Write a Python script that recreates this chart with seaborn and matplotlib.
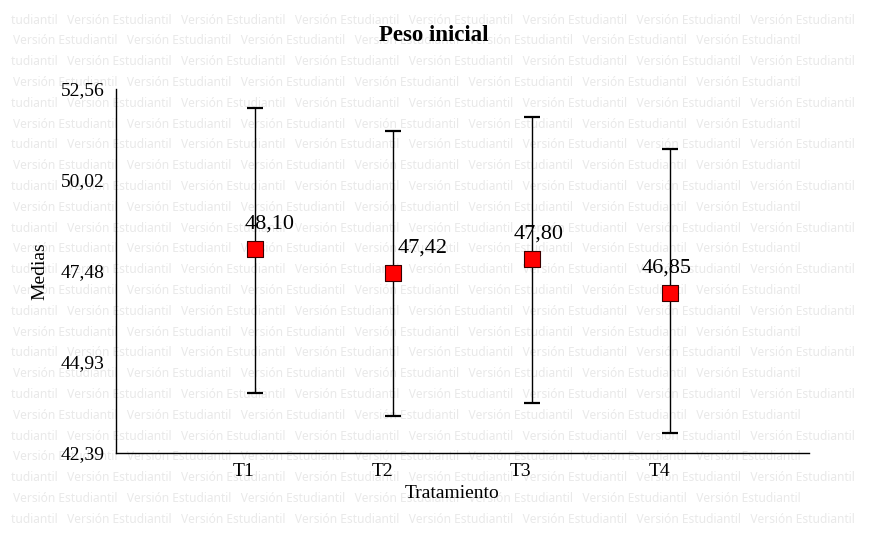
import matplotlib
matplotlib.use("Agg")
import matplotlib.pyplot as plt
import seaborn as sns
import pandas as pd
import numpy as np

# ---- data ----
categories = ["T1", "T2", "T3", "T4"]
means = [48.10, 47.42, 47.80, 46.85]
lower = [44.07, 43.42, 43.79, 42.95]
upper = [52.03, 51.39, 51.78, 50.88]
value_labels = ["48,10", "47,42", "47,80", "46,85"]
ytick_values = [42.39, 44.93, 47.48, 50.02, 52.56]
ytick_labels = ["42,39", "44,93", "47,48", "50,02", "52,56"]
watermark = "Versión Estudiantil"

# label placement (pixels)
label_dx = [15, 29, 7, -4]
label_dy = 25

df = pd.DataFrame({"Tratamiento": categories, "Medias": means})

sns.set_theme(style="white")
plt.rcParams["font.family"] = ["Liberation Serif", "DejaVu Serif"]

fig = plt.figure(figsize=(8.86, 5.34), dpi=100)

# background watermark layer
bg = fig.add_axes([0, 0, 1, 1], zorder=-5)
bg.set_axis_off()
bg.set_xlim(0, 886)
bg.set_ylim(534, 0)
for i in range(25):
    y = 20 + i * 20.8
    if i % 2 == 0:
        s = "tudiantil   " + "   ".join([watermark] * 7)
        x = 11
    else:
        s = "   ".join([watermark] * 7)
        x = 13
    bg.text(x, y, s, fontsize=8.6, color="#e9e9e9",
            family=["Noto Sans", "DejaVu Sans"], ha="left", va="center")

ax = fig.add_axes([116/886, 1-453/534, (809-116)/886, (453-89)/534], zorder=1)
ax.set_facecolor("none")

sns.scatterplot(data=df, x="Tratamiento", y="Medias", ax=ax, marker="s",
                s=135, color="#ff0000", edgecolor="#3a0000", linewidth=0.8, zorder=4)

xpos = np.arange(len(categories))
m = np.array(means)
yerr = np.vstack([m - np.array(lower), np.array(upper) - m])
ax.errorbar(xpos, m, yerr=yerr, fmt="none", ecolor="black", elinewidth=1.0,
            capsize=6, capthick=1.6, zorder=3)

for xi, yi, lab, dx in zip(xpos, means, value_labels, label_dx):
    ax.annotate(lab, (xi, yi), xytext=(dx, label_dy), textcoords="offset pixels",
                ha="center", va="center", fontsize=16, color="black", zorder=5)

ax.set_xlim(-1, 4)
ax.set_ylim(ytick_values[0], ytick_values[-1])
ax.set_xticks([-1] + list(xpos) + [4])
ax.set_xticklabels([""] + categories + [""], ha="right")
ax.set_yticks(ytick_values)
ax.set_yticklabels(ytick_labels)
ax.tick_params(axis="both", which="both", direction="out", length=3, width=0.8,
               color="black", labelsize=14, labelcolor="black")
ax.tick_params(axis="y", pad=5)
ax.tick_params(axis="x", pad=4)

for side in ["top", "right"]:
    ax.spines[side].set_visible(False)
for side in ["left", "bottom"]:
    ax.spines[side].set_color("black")
    ax.spines[side].set_linewidth(1.0)

ax.set_xlabel("Tratamiento", fontsize=14, color="black")
ax.set_ylabel("Medias", fontsize=14, color="black")
ax.xaxis.label.set_va("center")
ax.xaxis.set_label_coords((452-116)/693, (453-494)/364)
ax.yaxis.label.set_va("center")
ax.yaxis.set_label_coords((40-116)/693, 0.5)

ax.set_title("Peso inicial", fontsize=16.5, fontweight="bold", color="black",
             x=(434-116)/693, y=(453-35)/364, va="center", pad=0)

fig.savefig("out.png", dpi=100)
